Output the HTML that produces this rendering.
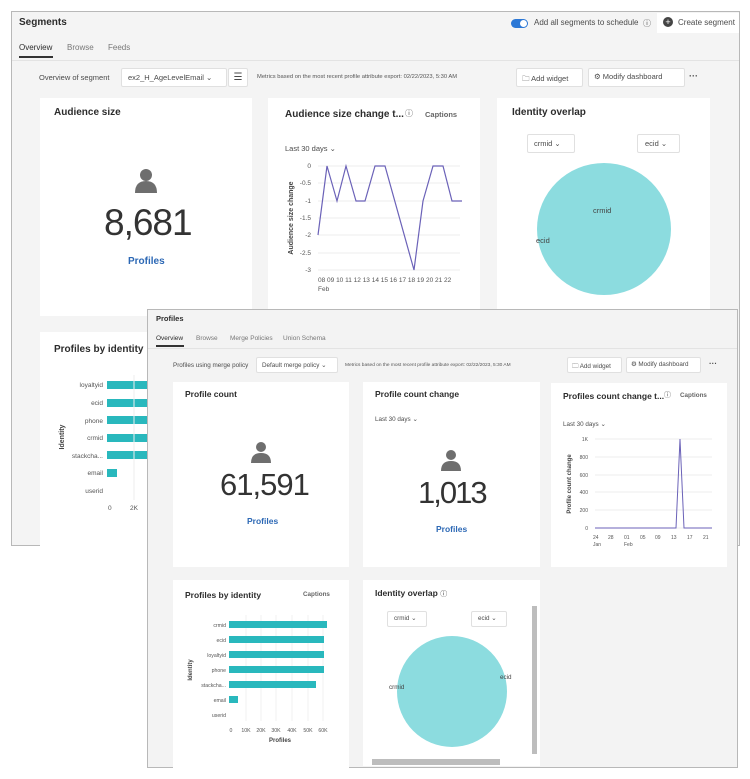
<!DOCTYPE html>
<html><head><meta charset="utf-8"><style>
*{margin:0;padding:0;box-sizing:border-box}
body{width:750px;height:779px;background:#fff;position:relative;overflow:hidden;font-family:"Liberation Sans",sans-serif;color:#4b4b4b}
.a{position:absolute;white-space:nowrap}
.win{position:absolute;background:#f4f4f4;border:1px solid #b8b8b8}
.card{position:absolute;background:#fff}
.t{font-weight:bold;color:#2c2c2c}
.btn{position:absolute;background:#fff;border:1px solid #e0e0e0;border-radius:2px}
.blue{color:#2c68b5;font-weight:bold}
.sm{font-size:6px;color:#666}
</style></head><body>

<!-- Window 1 -->
<div class="win" style="left:11px;top:11px;width:729px;height:535px"></div>
<div class="a t" style="left:19px;top:17px;font-size:10px">Segments</div>
<div class="a" style="left:511px;top:19px;width:17px;height:9px;border-radius:5px;background:#2c78d6"></div>
<div class="a" style="left:520px;top:20px;width:7px;height:7px;border-radius:50%;background:#fff"></div>
<div class="a" style="left:534px;top:18px;font-size:8px">Add all segments to schedule</div>
<div class="a" style="left:643px;top:18px;font-size:8px">ⓘ</div>
<div class="a" style="left:657px;top:13px;width:82px;height:20px;background:#fff"></div>
<div class="a" style="left:663px;top:17px;width:10px;height:10px;border-radius:50%;background:#444;color:#fff;font-size:9px;line-height:10px;text-align:center">+</div>
<div class="a" style="left:678px;top:18px;font-size:8px">Create segment</div>
<div class="a" style="left:19px;top:43px;font-size:8px;color:#2c2c2c">Overview</div>
<div class="a" style="left:19px;top:56px;width:34px;height:2px;background:#333"></div>
<div class="a" style="left:67px;top:43px;font-size:8px;color:#777">Browse</div>
<div class="a" style="left:108px;top:43px;font-size:8px;color:#777">Feeds</div>
<div class="a" style="left:12px;top:60px;width:727px;height:1px;background:#e3e3e3"></div>
<div class="a" style="left:39px;top:73px;font-size:7.5px">Overview of segment</div>
<div class="btn" style="left:121px;top:68px;width:106px;height:19px"></div>
<div class="a" style="left:128px;top:73px;font-size:7.5px">ex2_H_AgeLevelEmail ⌄</div>
<div class="btn" style="left:228px;top:68px;width:20px;height:19px;font-size:10px;text-align:center;line-height:17px">☰</div>
<div class="a" style="left:257px;top:74px;font-size:5.8px;color:#555">Metrics based on the most recent profile attribute export: 02/22/2023, 5:30 AM</div>
<div class="btn" style="left:516px;top:68px;width:67px;height:19px"></div>
<div class="a" style="left:522px;top:73px;font-size:7.5px">🗀 Add widget</div>
<div class="btn" style="left:588px;top:68px;width:97px;height:19px"></div>
<div class="a" style="left:594px;top:72px;font-size:7.5px">⚙ Modify dashboard</div>
<div class="a" style="left:689px;top:71px;font-size:9px;font-weight:bold">···</div>

<div class="card" style="left:40px;top:98px;width:212px;height:218px"></div>
<div class="a t" style="left:54px;top:107px;font-size:10px">Audience size</div>
<svg class="a" style="left:133px;top:167px" width="26" height="26"><circle cx="13" cy="8" r="6" fill="#6e6e6e"/><path d="M2 26 Q2 14 13 14 Q24 14 24 26Z" fill="#6e6e6e"/></svg>
<div class="a" style="left:104px;top:202px;font-size:37px;font-weight:300;color:#333;letter-spacing:-1px">8,681</div>
<div class="a blue" style="left:128px;top:256px;font-size:10px">Profiles</div>

<div class="card" style="left:268px;top:98px;width:212px;height:218px"></div>
<div class="a t" style="left:285px;top:109px;font-size:10px">Audience size change t...</div>
<div class="a" style="left:405px;top:108px;font-size:8px">ⓘ</div>
<div class="a" style="left:425px;top:110px;font-size:7.5px;font-weight:bold;color:#666">Captions</div>
<div class="a" style="left:285px;top:144px;font-size:7.5px">Last 30 days ⌄</div>
<svg class="a" style="left:280px;top:155px" width="190" height="145">
<g stroke="#eee" stroke-width="1"><line x1="38" y1="11" x2="180" y2="11"/><line x1="38" y1="28" x2="180" y2="28"/><line x1="38" y1="46" x2="180" y2="46"/><line x1="38" y1="63" x2="180" y2="63"/><line x1="38" y1="80" x2="180" y2="80"/><line x1="38" y1="98" x2="180" y2="98"/><line x1="38" y1="115" x2="180" y2="115"/></g>
<g font-size="6.5" fill="#555" text-anchor="end"><text x="31" y="13">0</text><text x="31" y="30">-0.5</text><text x="31" y="48">-1</text><text x="31" y="65">-1.5</text><text x="31" y="82">-2</text><text x="31" y="100">-2.5</text><text x="31" y="117">-3</text></g>
<text transform="translate(13,63) rotate(-90)" font-size="7" font-weight="bold" fill="#444" text-anchor="middle">Audience size change</text>
<polyline fill="none" stroke="#6b62b8" stroke-width="1.2" points="38,80 47,11 57,46 66,11 76,46 85,46 95,11 105,11 134,115 143,46 153,11 163,11 172,46 182,46"/>
<text x="38" y="127" font-size="6.5" fill="#555">08 09 10 11 12 13 14 15 16 17 18 19 20 21 22</text>
<text x="38" y="136" font-size="6.5" fill="#555">Feb</text>
</svg>

<div class="card" style="left:497px;top:98px;width:213px;height:218px"></div>
<div class="a t" style="left:512px;top:107px;font-size:10px">Identity overlap</div>
<div class="btn" style="left:527px;top:134px;width:48px;height:19px"></div>
<div class="a" style="left:534px;top:139px;font-size:7.5px">crmid ⌄</div>
<div class="btn" style="left:637px;top:134px;width:43px;height:19px"></div>
<div class="a" style="left:645px;top:139px;font-size:7.5px">ecid ⌄</div>
<div class="a" style="left:537px;top:163px;width:134px;height:132px;border-radius:50%;background:#8cdcdf"></div>
<div class="a" style="left:593px;top:206px;font-size:7.5px;color:#444">crmid</div>
<div class="a" style="left:536px;top:236px;font-size:7.5px;color:#444">ecid</div>

<div class="card" style="left:40px;top:332px;width:110px;height:214px"></div>
<div class="a t" style="left:54px;top:344px;font-size:10px">Profiles by identity</div>
<svg class="a" style="left:50px;top:375px" width="98" height="140">
<g font-size="6.5" fill="#555" text-anchor="end"><text x="53" y="12">loyaltyid</text><text x="53" y="30">ecid</text><text x="53" y="48">phone</text><text x="53" y="65">crmid</text><text x="53" y="83">stackcha...</text><text x="53" y="100">email</text><text x="53" y="118">userid</text></g>
<g fill="#29b8bd"><rect x="57" y="6" width="41" height="8"/><rect x="57" y="24" width="41" height="8"/><rect x="57" y="41" width="41" height="8"/><rect x="57" y="59" width="41" height="8"/><rect x="57" y="76" width="41" height="8"/><rect x="57" y="94" width="10" height="8"/></g>
<line x1="84" y1="0" x2="84" y2="125" stroke="#eee"/>
<text x="58" y="135" font-size="6.5" fill="#555">0</text><text x="80" y="135" font-size="6.5" fill="#555">2K</text>
<text transform="translate(14,62) rotate(-90)" font-size="7" font-weight="bold" fill="#444" text-anchor="middle">Identity</text>
</svg>

<!-- Window 2 -->
<div class="win" style="left:147px;top:309px;width:591px;height:459px;background:#f3f3f3"></div>
<div class="a t" style="left:156px;top:314px;font-size:7.5px">Profiles</div>
<div class="a" style="left:156px;top:335px;font-size:6.5px;color:#2c2c2c">Overview</div>
<div class="a" style="left:156px;top:345px;width:28px;height:1.5px;background:#333"></div>
<div class="a" style="left:196px;top:335px;font-size:6.5px;color:#777">Browse</div>
<div class="a" style="left:230px;top:335px;font-size:6.5px;color:#777">Merge Policies</div>
<div class="a" style="left:283px;top:335px;font-size:6.5px;color:#777">Union Schema</div>
<div class="a" style="left:148px;top:348px;width:589px;height:1px;background:#e3e3e3"></div>
<div class="a" style="left:173px;top:362px;font-size:6.3px">Profiles using merge policy</div>
<div class="btn" style="left:256px;top:357px;width:82px;height:16px"></div>
<div class="a" style="left:262px;top:362px;font-size:6.3px">Default merge policy ⌄</div>
<div class="a" style="left:345px;top:363px;font-size:4.8px;color:#555">Metrics based on the most recent profile attribute export: 02/22/2023, 5:30 AM</div>
<div class="btn" style="left:567px;top:357px;width:55px;height:16px"></div>
<div class="a" style="left:572px;top:361px;font-size:6.3px">🗀 Add widget</div>
<div class="btn" style="left:626px;top:357px;width:75px;height:16px"></div>
<div class="a" style="left:631px;top:361px;font-size:6.3px">⚙ Modify dashboard</div>
<div class="a" style="left:709px;top:359px;font-size:8px;font-weight:bold">···</div>

<div class="card" style="left:173px;top:382px;width:176px;height:185px"></div>
<div class="a t" style="left:185px;top:389px;font-size:8.5px">Profile count</div>
<svg class="a" style="left:250px;top:441px" width="22" height="22"><circle cx="11" cy="6" r="5" fill="#6e6e6e"/><path d="M1 22 Q1 12 11 12 Q21 12 21 22Z" fill="#6e6e6e"/></svg>
<div class="a" style="left:220px;top:467px;font-size:31px;font-weight:300;color:#333;letter-spacing:-1px">61,591</div>
<div class="a blue" style="left:247px;top:516px;font-size:8.5px">Profiles</div>

<div class="card" style="left:363px;top:382px;width:177px;height:185px"></div>
<div class="a t" style="left:375px;top:389px;font-size:8.5px">Profile count change</div>
<div class="a" style="left:375px;top:416px;font-size:6.3px">Last 30 days ⌄</div>
<svg class="a" style="left:440px;top:449px" width="22" height="22"><circle cx="11" cy="6" r="5" fill="#6e6e6e"/><path d="M1 22 Q1 12 11 12 Q21 12 21 22Z" fill="#6e6e6e"/></svg>
<div class="a" style="left:418px;top:475px;font-size:31px;font-weight:300;color:#333;letter-spacing:-2px">1,013</div>
<div class="a blue" style="left:436px;top:524px;font-size:8.5px">Profiles</div>

<div class="card" style="left:551px;top:383px;width:176px;height:184px"></div>
<div class="a t" style="left:563px;top:391px;font-size:8.5px">Profiles count change t...</div>
<div class="a" style="left:664px;top:390px;font-size:7px">ⓘ</div>
<div class="a" style="left:680px;top:392px;font-size:6.3px;font-weight:bold;color:#666">Captions</div>
<div class="a" style="left:563px;top:421px;font-size:6.3px">Last 30 days ⌄</div>
<svg class="a" style="left:560px;top:432px" width="160" height="120">
<g stroke="#eee"><line x1="35" y1="7" x2="152" y2="7"/><line x1="35" y1="25" x2="152" y2="25"/><line x1="35" y1="43" x2="152" y2="43"/><line x1="35" y1="60" x2="152" y2="60"/><line x1="35" y1="78" x2="152" y2="78"/><line x1="35" y1="96" x2="152" y2="96"/></g>
<g font-size="5" fill="#555" text-anchor="end"><text x="28" y="9">1K</text><text x="28" y="27">800</text><text x="28" y="45">600</text><text x="28" y="62">400</text><text x="28" y="80">200</text><text x="28" y="98">0</text></g>
<text transform="translate(11,52) rotate(-90)" font-size="6" font-weight="bold" fill="#444" text-anchor="middle">Profile count change</text>
<polyline fill="none" stroke="#6b62b8" stroke-width="1" points="35,96 116,96 120,7 124,96 152,96"/>
<g font-size="5" fill="#555"><text x="33" y="107">24</text><text x="48" y="107">28</text><text x="64" y="107">01</text><text x="80" y="107">05</text><text x="95" y="107">09</text><text x="111" y="107">13</text><text x="127" y="107">17</text><text x="143" y="107">21</text><text x="33" y="114">Jan</text><text x="64" y="114">Feb</text></g>
</svg>

<div class="card" style="left:173px;top:580px;width:176px;height:188px"></div>
<div class="a t" style="left:185px;top:590px;font-size:8.5px">Profiles by identity</div>
<div class="a" style="left:303px;top:591px;font-size:6.3px;font-weight:bold;color:#666">Captions</div>
<svg class="a" style="left:180px;top:615px" width="165" height="132">
<g stroke="#f0f0f0"><line x1="66" y1="0" x2="66" y2="106"/><line x1="81" y1="0" x2="81" y2="106"/><line x1="96" y1="0" x2="96" y2="106"/><line x1="112" y1="0" x2="112" y2="106"/><line x1="128" y1="0" x2="128" y2="106"/><line x1="143" y1="0" x2="143" y2="106"/></g>
<g font-size="5.2" fill="#555" text-anchor="end"><text x="46" y="12">crmid</text><text x="46" y="27">ecid</text><text x="46" y="42">loyaltyid</text><text x="46" y="57">phone</text><text x="46" y="72">stackcha...</text><text x="46" y="87">email</text><text x="46" y="102">userid</text></g>
<g fill="#29b8bd"><rect x="49" y="6" width="98" height="7"/><rect x="49" y="21" width="95" height="7"/><rect x="49" y="36" width="95" height="7"/><rect x="49" y="51" width="95" height="7"/><rect x="49" y="66" width="87" height="7"/><rect x="49" y="81" width="9" height="7"/></g>
<g font-size="5.2" fill="#555" text-anchor="middle"><text x="51" y="117">0</text><text x="66" y="117">10K</text><text x="81" y="117">20K</text><text x="96" y="117">30K</text><text x="112" y="117">40K</text><text x="128" y="117">50K</text><text x="143" y="117">60K</text></g>
<text x="100" y="127" font-size="6" font-weight="bold" fill="#444" text-anchor="middle">Profiles</text>
<text transform="translate(12,55) rotate(-90)" font-size="6" font-weight="bold" fill="#444" text-anchor="middle">Identity</text>
</svg>

<div class="card" style="left:363px;top:580px;width:177px;height:186px"></div>
<div class="a t" style="left:375px;top:588px;font-size:8.5px">Identity overlap <span style="font-weight:normal;font-size:7px">ⓘ</span></div>
<div class="btn" style="left:387px;top:611px;width:40px;height:16px"></div>
<div class="a" style="left:394px;top:615px;font-size:6.3px">crmid ⌄</div>
<div class="btn" style="left:471px;top:611px;width:36px;height:16px"></div>
<div class="a" style="left:478px;top:615px;font-size:6.3px">ecid ⌄</div>
<div class="a" style="left:397px;top:636px;width:110px;height:111px;border-radius:50%;background:#8cdcdf"></div>
<div class="a" style="left:389px;top:684px;font-size:6.3px;color:#444">crmid</div>
<div class="a" style="left:500px;top:674px;font-size:6.3px;color:#444">ecid</div>
<div class="a" style="left:532px;top:606px;width:5px;height:148px;background:#bdbdbd"></div>
<div class="a" style="left:372px;top:759px;width:128px;height:6px;background:#bdbdbd"></div>
</body></html>
